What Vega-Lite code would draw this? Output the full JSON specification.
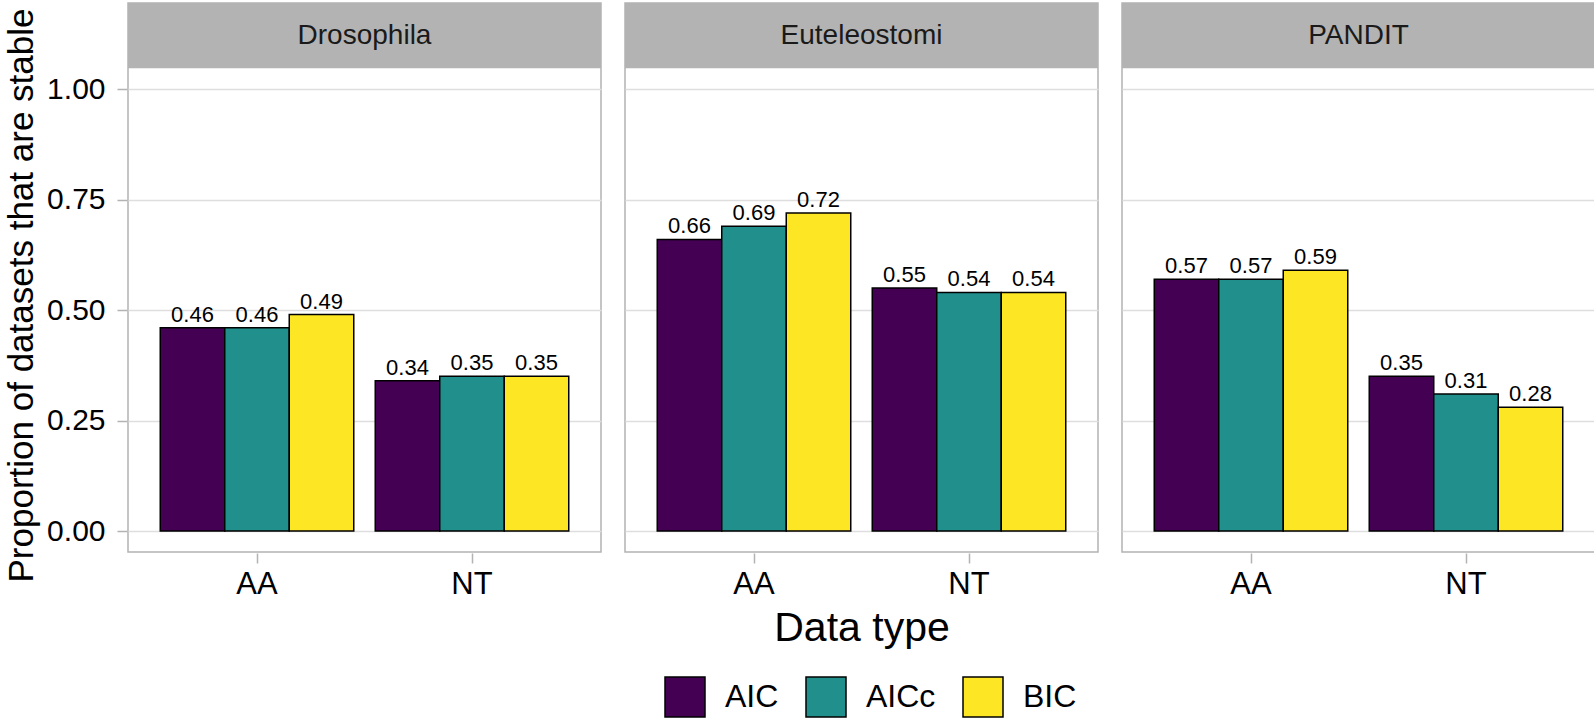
{
  "$schema": "https://vega.github.io/schema/vega-lite/v6.json",
  "padding": {"left": 4, "top": 2, "right": 2, "bottom": 2},
  "background": "white",
  "data": {"values": [
    {"dataset": "Drosophila", "type": "AA", "method": "AIC", "value": 0.46},
    {"dataset": "Drosophila", "type": "AA", "method": "AICc", "value": 0.46},
    {"dataset": "Drosophila", "type": "AA", "method": "BIC", "value": 0.49},
    {"dataset": "Drosophila", "type": "NT", "method": "AIC", "value": 0.34},
    {"dataset": "Drosophila", "type": "NT", "method": "AICc", "value": 0.35},
    {"dataset": "Drosophila", "type": "NT", "method": "BIC", "value": 0.35},
    {"dataset": "Euteleostomi", "type": "AA", "method": "AIC", "value": 0.66},
    {"dataset": "Euteleostomi", "type": "AA", "method": "AICc", "value": 0.69},
    {"dataset": "Euteleostomi", "type": "AA", "method": "BIC", "value": 0.72},
    {"dataset": "Euteleostomi", "type": "NT", "method": "AIC", "value": 0.55},
    {"dataset": "Euteleostomi", "type": "NT", "method": "AICc", "value": 0.54},
    {"dataset": "Euteleostomi", "type": "NT", "method": "BIC", "value": 0.54},
    {"dataset": "PANDIT", "type": "AA", "method": "AIC", "value": 0.57},
    {"dataset": "PANDIT", "type": "AA", "method": "AICc", "value": 0.57},
    {"dataset": "PANDIT", "type": "AA", "method": "BIC", "value": 0.59},
    {"dataset": "PANDIT", "type": "NT", "method": "AIC", "value": 0.35},
    {"dataset": "PANDIT", "type": "NT", "method": "AICc", "value": 0.31},
    {"dataset": "PANDIT", "type": "NT", "method": "BIC", "value": 0.28}
  ]},
  "facet": {"column": {"field": "dataset", "type": "nominal",
    "header": {"title": "Data type", "titleOrient": "bottom", "labels": false,
               "titleFontSize": 41, "titleFontWeight": "normal", "titleColor": "black",
               "titleFont": "Liberation Sans", "titlePadding": 0}}},
  "spacing": 22,
  "spec": {
    "width": 473,
    "height": 549,
    "layer": [
      {
        "mark": {"type": "bar", "stroke": "black", "strokeWidth": 1.5},
        "encoding": {
          "x": {"field": "type", "type": "nominal", "title": null,
                "scale": {"paddingInner": 0.1, "paddingOuter": 0.15},
                "axis": {"labelAngle": 0}},
          "xOffset": {"field": "method", "type": "nominal", "scale": {"paddingInner": 0, "paddingOuter": 0}},
          "y": {"field": "value", "type": "quantitative", "title": "Proportion of datasets that are stable",
                "scale": {"domain": [-0.0475, 1.195], "nice": false},
                "axis": {"values": [0, 0.25, 0.5, 0.75, 1], "format": ".2f", "titleY": 292}},
          "color": {"field": "method", "type": "nominal",
                    "scale": {"domain": ["AIC", "AICc", "BIC"], "range": ["#440154", "#21908C", "#FDE725"]},
                    "legend": {"title": null, "orient": "none", "legendX": 536, "legendY": 673,
                               "direction": "horizontal", "symbolType": "square",
                               "symbolSize": 1600, "symbolStrokeColor": "black", "symbolStrokeWidth": 1.5,
                               "symbolOpacity": 1, "labelFontSize": 32, "labelColor": "black",
                               "columnPadding": 24, "labelOffset": 19}}
        }
      },
      {
        "mark": {"type": "text", "baseline": "bottom", "dy": -1, "fontSize": 22, "color": "black"},
        "encoding": {
          "x": {"field": "type", "type": "nominal"},
          "xOffset": {"field": "method", "type": "nominal"},
          "y": {"field": "value", "type": "quantitative"},
          "text": {"field": "value", "type": "quantitative", "format": ".2f"}
        }
      },
      {
        "transform": [{"filter": "datum.type == 'AA' && datum.method == 'AIC'"}],
        "mark": {"type": "rect", "fill": "#b3b3b3"},
        "encoding": {"y": {"datum": 1.0475}, "y2": {"datum": 1.195}}
      },
      {
        "transform": [{"filter": "datum.type == 'AA' && datum.method == 'AIC'"}],
        "mark": {"type": "text", "fontSize": 28, "baseline": "middle", "color": "#1a1a1a"},
        "encoding": {"y": {"datum": 1.121}, "text": {"field": "dataset", "type": "nominal"}}
      }
    ]
  },
  "config": {
    "font": "Liberation Sans",
    "view": {"stroke": "#b3b3b3", "strokeWidth": 1.5},
    "axis": {
      "gridColor": "#dedede", "gridWidth": 1.5, "domain": false,
      "tickColor": "#b3b3b3", "tickWidth": 1.5, "tickSize": 10,
      "labelFontSize": 30, "labelColor": "black", "labelPadding": 8,
      "titleFontSize": 35, "titleFontWeight": "normal", "titleColor": "black"
    },
    "axisY": {"labelPadding": 12, "titlePadding": 7},
    "axisX": {"labelPadding": 6, "labelFontSize": 31}
  }
}
